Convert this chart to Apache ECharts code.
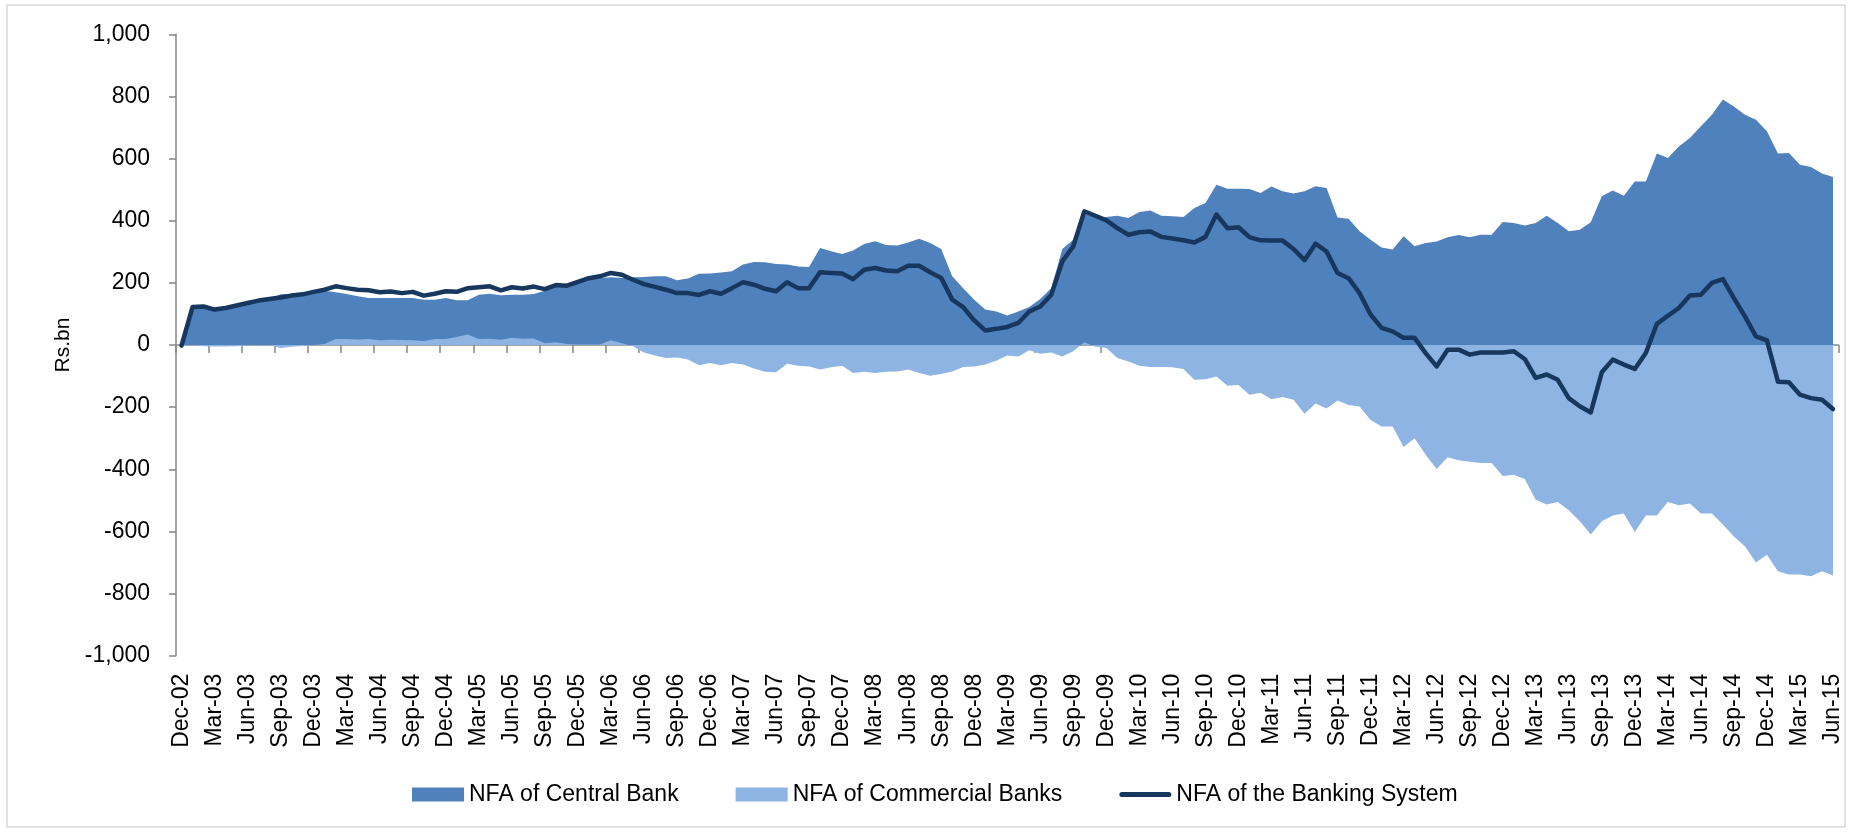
<!DOCTYPE html>
<html>
<head>
<meta charset="utf-8">
<script src="https://cdn.jsdelivr.net/npm/echarts@6/dist/echarts.min.js"></script>
<style>
  html, body { margin: 0; padding: 0; background: #fff; }
  #chart { width: 1862px; height: 832px; }
</style>
</head>
<body>
<div id="chart"></div>
<script>
// monthly, Dec-02 .. Jun-15 (151 points)
var monthNames = ['Jan','Feb','Mar','Apr','May','Jun','Jul','Aug','Sep','Oct','Nov','Dec'];
var months = [];
for (var k = 0; k < 151; k++) {
    var m = (11 + k) % 12;
    var y = 2002 + Math.floor((11 + k) / 12);
    months.push(monthNames[m] + '-' + String(y).slice(2));
}

var centralBank = [
    0, 122, 128, 119, 124, 131, 137, 145, 149, 163,
    165, 166, 171, 175, 170, 164, 157, 151, 151, 151,
    151, 151, 146, 146, 151, 144, 144, 162, 165, 160,
    162, 162, 164, 175, 189, 191, 202, 210, 216, 218,
    216, 218, 219, 221, 221, 208, 214, 229, 230, 233,
    237, 259, 267, 266, 261, 259, 253, 251, 312, 302,
    293, 304, 325, 334, 322, 320, 330, 342, 328, 309,
    221, 183, 146, 114, 108, 95, 108, 122, 148, 183,
    309, 339, 421, 412, 412, 416, 409, 428, 433, 416,
    414, 412, 441, 457, 516, 503, 503, 502, 489, 510,
    495, 488, 495, 511, 505, 410, 406, 366, 339, 314,
    307, 350, 318, 328, 333, 347, 354, 347, 355, 355,
    396, 393, 385, 393, 416, 393, 366, 371, 395, 479,
    497, 480, 526, 526, 616, 602, 639, 666, 704, 741,
    790, 768, 741, 725, 688, 616, 618, 580, 573, 552,
    541
];

var commercialBanks = [
    -2, 0, -4, -5, -5, -4, -2, -2, -1, -10,
    -6, -3, 0, 3, 19, 19, 18, 19, 15, 17,
    16, 15, 13, 19, 19, 26, 34, 19, 20, 17,
    23, 20, 21, 6, 9, 3, 2, 2, 2, 15,
    6, -4, -24, -34, -42, -40, -47, -65, -58, -65,
    -58, -63, -76, -86, -88, -60, -67, -69, -79, -72,
    -67, -90, -86, -90, -86, -85, -79, -90, -99, -93,
    -85, -71, -69, -63, -51, -34, -37, -17, -28, -24,
    -37, -20, 9, -6, -10, -42, -53, -67, -71, -71,
    -72, -77, -112, -110, -101, -131, -129, -160, -154, -175,
    -167, -176, -221, -188, -204, -179, -193, -198, -241, -262,
    -262, -328, -300, -353, -399, -361, -371, -376, -380, -380,
    -422, -418, -431, -498, -513, -505, -532, -567, -610, -567,
    -549, -542, -602, -549, -549, -505, -516, -510, -542, -542,
    -578, -616, -648, -700, -675, -728, -739, -739, -744, -728,
    -742
];

var bankingSystem = [
    -2, 122, 124, 114, 119, 127, 135, 143, 148, 153,
    159, 163, 171, 178, 189, 183, 178, 176, 170, 172,
    167, 171, 159, 165, 173, 171, 183, 186, 189, 176,
    186, 182, 188, 180, 193, 191, 203, 215, 221, 232,
    226, 210, 196, 187, 178, 167, 167, 161, 173, 165,
    183, 202, 194, 181, 173, 202, 183, 183, 234, 232,
    230, 212, 242, 248, 240, 237, 255, 255, 234, 216,
    146, 122, 79, 47, 52, 58, 71, 108, 124, 162,
    269, 318, 430, 416, 401, 376, 355, 363, 365, 348,
    343, 337, 330, 348, 420, 376, 379, 347, 337, 336,
    336, 309, 273, 326, 301, 232, 215, 167, 98, 55,
    44, 23, 23, -26, -69, -15, -15, -31, -24, -24,
    -24, -20, -45, -106, -95, -112, -171, -197, -217, -88,
    -47, -63, -77, -26, 68, 94, 119, 159, 162, 200,
    212, 151, 92, 28, 15, -118, -120, -160, -171, -176,
    -206
];

var chartDom = document.getElementById('chart');
var myChart = echarts.init(chartDom);
var option;

var fontFamily = '"Liberation Sans", Arial, sans-serif';
var axisGray = '#868686';

option = {
    animation: false,
    backgroundColor: '#fff',
    textStyle: { fontFamily: fontFamily, color: '#000' },
    graphic: [{
        type: 'rect',
        shape: { x: 7, y: 5, width: 1838, height: 822 },
        style: { fill: 'none', stroke: '#d9d9d9', lineWidth: 1.5 },
        silent: true
    }],
    grid: {
        left: 176,
        right: 23.5,
        top: 34.3,
        bottom: 176.3,
        containLabel: false,
        outerBoundsMode: 'none'
    },
    legend: {
        top: 778,
        left: 407,
        itemWidth: 52,
        itemHeight: 14,
        itemGap: 57,
        textStyle: { fontSize: 23, color: '#000', fontFamily: fontFamily },
        data: [
            { name: 'NFA of Central Bank', icon: 'rect' },
            { name: 'NFA of Commercial Banks', icon: 'rect' },
            {
                name: 'NFA of the Banking System',
                icon: 'path://M2.5,0 L49.5,0 A2.5,2.5 0 0 1 49.5,5 L2.5,5 A2.5,2.5 0 0 1 2.5,0 Z'
            }
        ]
    },
    xAxis: [{
        type: 'category',
        data: months,
        boundaryGap: true,
        axisLine: { onZero: true, lineStyle: { color: axisGray, width: 1.5 } },
        axisTick: { show: true, interval: 2, length: 8, lineStyle: { color: axisGray, width: 1.5 } },
        axisLabel: { show: false },
        splitLine: { show: false }
    }, {
        type: 'category',
        data: months,
        position: 'bottom',
        boundaryGap: true,
        axisLine: { show: false, onZero: false },
        axisTick: { show: false },
        axisLabel: {
            interval: 2,
            rotate: 90,
            margin: 18,
            fontSize: 23,
            color: '#000'
        },
        splitLine: { show: false }
    }],
    yAxis: {
        type: 'value',
        min: -1000,
        max: 1000,
        interval: 200,
        name: 'Rs.bn',
        nameLocation: 'middle',
        nameRotate: 90,
        nameGap: 98,
        nameTextStyle: { fontSize: 21, color: '#000' },
        axisLine: { show: true, lineStyle: { color: axisGray, width: 1.5 } },
        axisTick: { show: true, length: 7, lineStyle: { color: axisGray, width: 1.5 } },
        axisLabel: {
            margin: 26,
            fontSize: 23,
            color: '#000',
            formatter: function (v) {
                return v.toLocaleString('en-US');
            }
        },
        splitLine: { show: false }
    },
    series: [{
        name: 'NFA of Central Bank',
        type: 'line',
        data: centralBank,
        color: '#4F81BD',
        showSymbol: false,
        symbol: 'none',
        lineStyle: { width: 0 },
        areaStyle: { color: '#4F81BD', opacity: 1, origin: 0 },
        z: 2
    }, {
        name: 'NFA of Commercial Banks',
        type: 'line',
        data: commercialBanks,
        color: '#8EB4E3',
        showSymbol: false,
        symbol: 'none',
        lineStyle: { width: 0 },
        areaStyle: { color: '#8EB4E3', opacity: 1, origin: 0 },
        z: 3
    }, {
        name: 'NFA of the Banking System',
        type: 'line',
        data: bankingSystem,
        color: '#17375E',
        showSymbol: false,
        symbol: 'none',
        lineStyle: { width: 4.5, color: '#17375E', cap: 'round', join: 'round' },
        z: 4
    }]
};

option && myChart.setOption(option);
</script>
</body>
</html>
